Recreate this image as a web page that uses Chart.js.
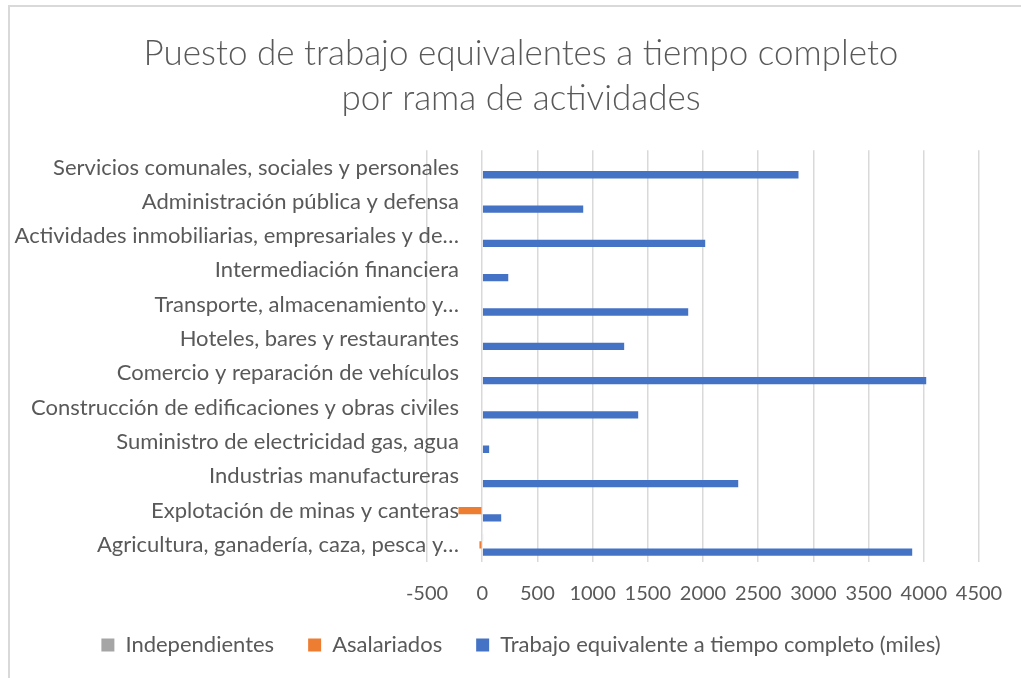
<!DOCTYPE html>
<html>
<head>
<meta charset="utf-8">
<script src="https://cdn.jsdelivr.net/npm/chart.js"></script>
<style>
  html, body { margin: 0; padding: 0; background: #fff; overflow: hidden; }
  #marco {
    position: absolute; left: 8px; top: 5px;
    width: 1030px; height: 700px;
    border-left: 2px solid #d9d9d9; border-top: 2px solid #d9d9d9;
  }
</style>
</head>
<body>
<div id="marco"><canvas id="grafico" width="1022" height="671"></canvas></div>
<script>
// Ramas de actividad (de arriba hacia abajo)
const ramas = [
    "Servicios comunales, sociales y personales",
    "Administración pública y defensa",
    "Actividades inmobiliarias, empresariales y de…",
    "Intermediación financiera",
    "Transporte, almacenamiento y…",
    "Hoteles, bares y restaurantes",
    "Comercio y reparación de vehículos",
    "Construcción de edificaciones y obras civiles",
    "Suministro de electricidad gas, agua",
    "Industrias manufactureras",
    "Explotación de minas y canteras",
    "Agricultura, ganadería, caza, pesca y…"
];

const independientes = [0, 0, 0, 0, 0, 0, 0, 0, 0, 0, 0, 8];
const asalariados = [0, 0, 0, 0, 0, 0, 0, 0, 0, 0, -215, -25];
const trabajoEquivalente = [2865, 915, 2020, 236, 1866, 1286, 4022, 1413, 63, 2319, 172, 3895];

const ticksX = { min: -500, max: 4500, paso: 500 };

const gris = "#595959";
const fuente = "Lato, 'Open Sans', sans-serif";
const tamEtiqueta = 22;

const ctx = document.getElementById("grafico").getContext("2d");

// ancho de la etiqueta mas larga, para alinear las etiquetas sobre el area del grafico
ctx.font = tamEtiqueta + "px " + fuente;
let masAncha = 0;
ramas.forEach(function (r) {
    masAncha = Math.max(masAncha, ctx.measureText(r).width);
});

// sube la leyenda unos pixeles
const ajusteLeyenda = {
    id: "ajusteLeyenda",
    afterLayout: function (chart) {
        chart.legend.top -= 8;
        chart.legend.bottom -= 8;
    }
};

const grafico = new Chart(ctx, {
    type: "bar",
    data: {
        labels: ramas,
        datasets: [
            {
                label: "Independientes",
                data: independientes,
                backgroundColor: "#A5A5A5"
            },
            {
                label: "Asalariados",
                data: asalariados,
                backgroundColor: "#ED7D31"
            },
            {
                label: "Trabajo equivalente a tiempo completo (miles)",
                data: trabajoEquivalente,
                backgroundColor: "#4472C4"
            }
        ]
    },
    options: {
        indexAxis: "y",
        responsive: false,
        animation: false,
        categoryPercentage: 0.64,
        barPercentage: 1,
        layout: {
            padding: { left: 53, right: 53, top: 0, bottom: 4 }
        },
        scales: {
            x: {
                min: ticksX.min,
                max: ticksX.max,
                ticks: {
                    stepSize: ticksX.paso,
                    color: gris,
                    font: { family: fuente, size: 20 },
                    padding: 20,
                    callback: function (v) { return String(v); }
                },
                grid: { color: "#d9d9d9", lineWidth: 1.5, drawTicks: false },
                border: { display: false },
                afterFit: function (escala) {
                    escala.height = 46;
                }
            },
            y: {
                ticks: {
                    color: gris,
                    font: { family: fuente, size: tamEtiqueta },
                    mirror: true,
                    crossAlign: "far",
                    padding: 32 - masAncha,
                    autoSkip: false
                },
                grid: { display: false, drawTicks: false },
                border: { display: false },
                afterFit: function (escala) {
                    escala.width = 364;
                }
            }
        },
        plugins: {
            title: {
                display: true,
                text: ["Puesto de trabajo equivalentes a tiempo completo", "por rama de actividades"],
                color: gris,
                font: { family: fuente, size: 35, weight: "300", lineHeight: 1.29 },
                padding: { top: 24, bottom: 29 }
            },
            legend: {
                position: "bottom",
                labels: {
                    color: gris,
                    font: { family: fuente, size: tamEtiqueta },
                    boxWidth: 13,
                    boxHeight: 13,
                    padding: 34
                }
            },
            tooltip: { enabled: false }
        }
    },
    plugins: [ajusteLeyenda]
});
</script>
</body>
</html>
